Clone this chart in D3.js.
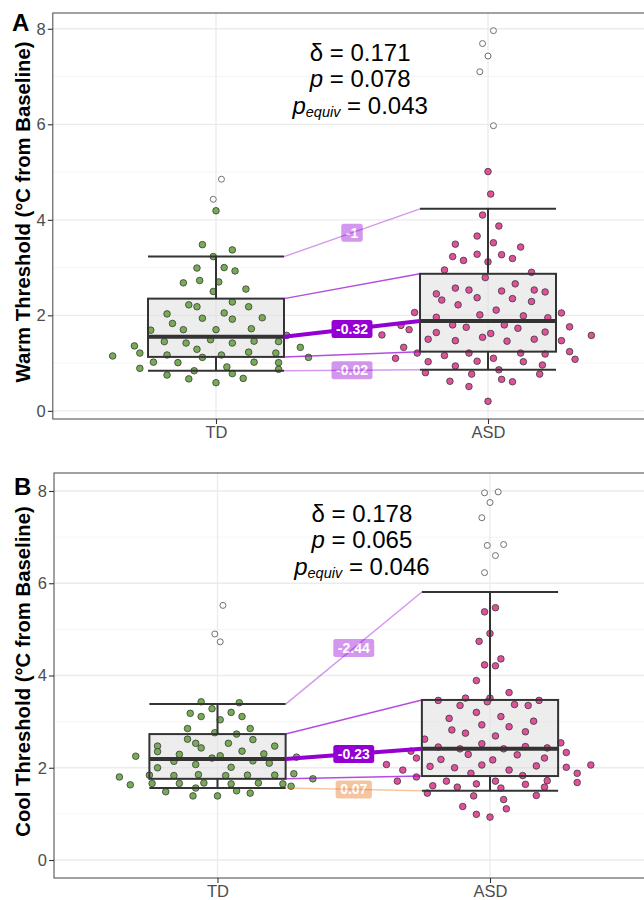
<!DOCTYPE html>
<html>
<head>
<meta charset="utf-8">
<script src="https://cdn.jsdelivr.net/npm/d3@7/dist/d3.min.js"></script>
<style>
  body { margin: 0; background: #fff; }
  svg { display: block; font-family: "Liberation Sans", Arial, sans-serif; }
</style>
</head>
<body>
<div id="chart"></div>
<script>
const groups = ["TD", "ASD"]
const panelTags = ["A", "B"]
const yTitles = ["Warm Threshold (°C from Baseline)", "Cool Threshold (°C from Baseline)"]
const yTicks = [0, 2, 4, 6, 8]

// stats order: lower whisker, Q1, median, Q3, upper whisker
const warmTdStats = [0.84, 1.13, 1.55, 2.35, 3.23]
const warmAsdStats = [0.86, 1.24, 1.88, 2.87, 4.23]
const warmDiffLabels = ["-0.02", "", "-0.32", "", "-1"]
const warmAnnot = ["0.171", "0.078", "0.043"]

const coolTdStats = [1.56, 1.76, 2.19, 2.73, 3.38]
const coolAsdStats = [1.50, 1.82, 2.41, 3.47, 5.81]
const coolDiffLabels = ["0.07", "", "-0.23", "", "-2.44"]
const coolAnnot = ["0.178", "0.065", "0.046"]

// [value, jitter]
const warmTdOutliers = [[4.85, 0.02], [4.43, -0.01]]
const warmAsdOutliers = [[7.96, 0.02], [7.69, -0.02], [7.43, 0.00], [7.10, -0.03], [5.97, 0.02]]
const coolTdOutliers = [[5.52, 0.02], [4.90, -0.01], [4.73, 0.01]]
const coolAsdOutliers = [[7.96, -0.02], [7.98, 0.03], [7.75, 0.00], [7.42, -0.03], [6.82, -0.01], [6.84, 0.05], [6.60, 0.02], [6.23, -0.02]]

const warmTdPoints = [
  [4.19, 0.00], [3.48, -0.05], [3.37, 0.06], [3.23, -0.01], [2.99, -0.07], [3.00, 0.03], [2.93, 0.07],
  [2.73, -0.06], [2.68, -0.12], [2.70, 0.01], [2.55, 0.11], [2.50, -0.01], [2.28, 0.06], [2.22, -0.10],
  [2.18, -0.07], [2.18, 0.12], [2.03, -0.18], [2.05, 0.03], [1.94, -0.05], [1.92, 0.06], [1.95, 0.17],
  [1.83, -0.16], [1.69, -0.24], [1.70, -0.12], [1.70, 0.00], [1.72, 0.13], [1.49, -0.02], [1.45, -0.19],
  [1.42, -0.11], [1.42, 0.06], [1.46, 0.14], [1.45, 0.23], [1.36, -0.30], [1.29, -0.07], [1.21, -0.28],
  [1.23, 0.12], [1.21, 0.22], [1.15, -0.38], [1.17, -0.18], [1.12, -0.05], [1.17, 0.02], [1.02, -0.23],
  [1.01, -0.14], [1.02, 0.14], [1.01, 0.23], [0.89, -0.28], [0.84, -0.08], [0.92, 0.04], [0.87, 0.23],
  [0.75, -0.18], [0.78, 0.06], [0.67, -0.10], [0.68, 0.10], [0.59, 0.00], [1.33, 0.31], [1.12, 0.34],
  [1.58, 0.26]
]
const warmAsdPoints = [
  [5.01, 0.00], [4.54, 0.01], [4.10, -0.02], [3.87, 0.04], [3.66, -0.04], [3.49, -0.12], [3.52, 0.02],
  [3.43, 0.12], [3.23, -0.13], [3.28, -0.04], [3.27, 0.05], [3.15, -0.09], [3.12, 0.00], [3.19, 0.09],
  [2.95, -0.16], [2.90, 0.16], [2.79, -0.01], [2.45, -0.19], [2.57, -0.12], [2.53, -0.07], [2.51, 0.05],
  [2.66, 0.10], [2.53, 0.17], [2.49, 0.21], [2.32, -0.17], [2.37, -0.04], [2.35, 0.09], [2.29, 0.16],
  [2.22, -0.11], [2.06, -0.27], [2.11, 0.03], [2.01, -0.03], [1.99, 0.13], [2.05, 0.27], [1.96, -0.19],
  [1.95, 0.22], [1.79, -0.32], [1.80, -0.13], [1.75, -0.08], [1.80, 0.06], [1.73, 0.11], [1.76, 0.30],
  [1.70, -0.29], [1.59, -0.39], [1.64, -0.19], [1.62, 0.01], [1.65, 0.21], [1.58, 0.38], [1.50, -0.22],
  [1.47, -0.12], [1.54, -0.02], [1.46, 0.07], [1.50, 0.17], [1.47, 0.27], [1.33, -0.31], [1.21, -0.26],
  [1.16, -0.16], [1.21, -0.07], [1.21, 0.12], [1.19, 0.21], [1.24, 0.30], [1.10, -0.34], [1.03, -0.22],
  [1.04, -0.04], [1.10, 0.02], [1.03, 0.13], [1.08, 0.32], [0.94, -0.12], [0.96, 0.20], [0.80, -0.23],
  [0.77, -0.06], [0.86, 0.04], [0.77, 0.19], [0.62, -0.14], [0.66, 0.05], [0.61, 0.09], [0.51, -0.07],
  [0.20, 0.00]
]
const coolTdPoints = [
  [3.43, -0.06], [3.41, 0.08], [3.28, -0.02], [3.18, -0.10], [3.20, 0.05], [3.11, -0.06], [3.11, 0.09],
  [3.04, 0.01], [2.85, -0.11], [2.85, 0.12], [2.76, -0.01], [2.73, 0.07], [2.62, -0.11], [2.61, 0.13],
  [2.53, -0.08], [2.53, 0.04], [2.47, -0.22], [2.43, -0.06], [2.47, 0.21], [2.35, -0.22], [2.36, 0.09],
  [2.25, -0.30], [2.29, -0.14], [2.26, 0.01], [2.30, 0.17], [2.21, -0.02], [2.23, 0.29], [2.14, -0.16],
  [2.15, 0.13], [2.07, -0.08], [2.10, 0.19], [2.00, -0.22], [2.01, 0.05], [1.80, -0.36], [1.84, -0.25],
  [1.83, -0.16], [1.85, -0.07], [1.83, 0.03], [1.84, 0.11], [1.84, 0.21], [1.87, 0.28], [1.76, 0.35],
  [1.63, -0.32], [1.66, -0.24], [1.66, -0.14], [1.67, -0.05], [1.65, 0.05], [1.67, 0.15], [1.65, 0.24],
  [1.60, 0.27], [1.56, -0.08], [1.48, -0.19], [1.50, 0.07], [1.39, -0.09], [1.39, 0.00], [1.45, 0.12]
]
const coolAsdPoints = [
  [5.47, 0.02], [5.38, -0.02], [4.91, 0.00], [4.74, -0.04], [4.36, 0.04], [4.23, -0.02], [4.21, 0.02],
  [3.89, -0.05], [3.63, 0.07], [3.51, -0.09], [3.51, 0.00], [3.46, -0.19], [3.43, -0.01], [3.46, 0.18],
  [3.35, -0.11], [3.37, 0.09], [3.35, 0.14], [3.20, -0.05], [3.07, -0.15], [3.11, 0.04], [3.01, 0.16],
  [2.93, -0.03], [2.89, 0.07], [2.82, -0.14], [2.75, -0.09], [2.78, 0.13], [2.69, 0.02], [2.62, -0.24],
  [2.52, -0.03], [2.54, 0.26], [2.45, -0.19], [2.41, -0.11], [2.41, 0.05], [2.46, 0.13], [2.43, 0.21],
  [2.36, -0.29], [2.33, 0.28], [2.29, -0.08], [2.28, 0.10], [2.21, -0.27], [2.18, -0.18], [2.17, 0.01],
  [2.21, 0.20], [2.07, -0.38], [2.03, -0.22], [2.06, -0.03], [2.04, 0.17], [2.06, 0.37], [1.95, -0.32],
  [2.00, -0.13], [1.95, 0.07], [2.01, 0.28], [1.88, -0.07], [1.88, 0.32], [1.83, 0.12], [1.80, -0.27],
  [1.71, -0.34], [1.71, -0.16], [1.71, 0.02], [1.72, 0.21], [1.68, 0.32], [1.65, -0.05], [1.64, 0.13],
  [1.61, -0.21], [1.58, -0.12], [1.56, 0.04], [1.58, 0.20], [1.45, -0.23], [1.39, -0.06], [1.40, 0.17],
  [1.31, 0.05], [1.16, -0.10], [1.11, 0.06], [0.99, -0.05], [0.93, 0.00]
]

const width = 644
const height = 900
const boxHalf = 0.25
const pointColors = ["#78ab56", "#e0519b"]
const negColor = "#9400d3"
const posColor = "#e8701a"
const statAlpha = [0.4, 0.7, 1, 0.7, 0.4]
const statWidth = [1.5, 1.5, 4, 1.5, 1.5]

const panels = [
  { top: 13, bottom: 419, left: 52.8, right: 651.2, yDomain: [-0.17, 8.33], tagX: 12, tagY: 31,
    stats: [warmTdStats, warmAsdStats], points: [warmTdPoints, warmAsdPoints],
    outliers: [warmTdOutliers, warmAsdOutliers], labels: warmDiffLabels, annot: warmAnnot },
  { top: 473, bottom: 878, left: 54, right: 653.5, yDomain: [-0.39, 8.39], tagX: 14, tagY: 495,
    stats: [coolTdStats, coolAsdStats], points: [coolTdPoints, coolAsdPoints],
    outliers: [coolTdOutliers, coolAsdOutliers], labels: coolDiffLabels, annot: coolAnnot }
]

const svg = d3.select("#chart").append("svg")
  .attr("width", width)
  .attr("height", height)

const drawPanel = (p, i) => {
  const x = d3.scaleLinear().domain([0.4, 2.6]).range([p.left, p.right])
  const y = d3.scaleLinear().domain(p.yDomain).range([p.bottom, p.top])
  const g = svg.append("g")

  // grid
  g.selectAll(".minor").data([1, 3, 5, 7]).enter().append("line")
    .attr("x1", p.left).attr("x2", p.right)
    .attr("y1", d => y(d)).attr("y2", d => y(d))
    .attr("stroke", "#f2f2f2").attr("stroke-width", 0.8)
  g.selectAll(".major").data(yTicks).enter().append("line")
    .attr("x1", p.left).attr("x2", p.right)
    .attr("y1", d => y(d)).attr("y2", d => y(d))
    .attr("stroke", "#ebebeb").attr("stroke-width", 1.3)
  g.selectAll(".vgrid").data([1, 2]).enter().append("line")
    .attr("x1", d => x(d)).attr("x2", d => x(d))
    .attr("y1", p.top).attr("y2", p.bottom)
    .attr("stroke", "#ebebeb").attr("stroke-width", 1.3)

  // box fills
  p.stats.forEach((s, gi) => {
    g.append("rect")
      .attr("x", x(gi + 1 - boxHalf)).attr("width", x(gi + 1 + boxHalf) - x(gi + 1 - boxHalf))
      .attr("y", y(s[3])).attr("height", y(s[1]) - y(s[3]))
      .attr("fill", "#dedede").attr("fill-opacity", 0.55)
  })

  // jittered points
  p.points.forEach((pts, gi) => {
    g.append("g").selectAll("circle").data(pts).enter().append("circle")
      .attr("cx", d => x(gi + 1 + d[1]))
      .attr("cy", d => y(d[0]))
      .attr("r", 3.3)
      .attr("fill", pointColors[gi])
      .attr("stroke", "#333").attr("stroke-width", 0.75)
  })

  // box lines
  p.stats.forEach((s, gi) => {
    const c = gi + 1
    const bx = g.append("g").attr("stroke", "#333").attr("fill", "none")
    bx.append("line").attr("x1", x(c)).attr("x2", x(c)).attr("y1", y(s[3])).attr("y2", y(s[4])).attr("stroke-width", 2)
    bx.append("line").attr("x1", x(c)).attr("x2", x(c)).attr("y1", y(s[1])).attr("y2", y(s[0])).attr("stroke-width", 2)
    ;[0, 4].forEach(k => {
      bx.append("line").attr("x1", x(c - boxHalf)).attr("x2", x(c + boxHalf))
        .attr("y1", y(s[k])).attr("y2", y(s[k])).attr("stroke-width", 2)
    })
    bx.append("rect")
      .attr("x", x(c - boxHalf)).attr("width", x(c + boxHalf) - x(c - boxHalf))
      .attr("y", y(s[3])).attr("height", y(s[1]) - y(s[3]))
      .attr("stroke-width", 2)
    bx.append("line").attr("x1", x(c - boxHalf)).attr("x2", x(c + boxHalf))
      .attr("y1", y(s[2])).attr("y2", y(s[2])).attr("stroke-width", 4)
  })

  // connectors between the two groups' stats
  const td = p.stats[0], asd = p.stats[1]
  td.forEach((v, k) => {
    const col = v - asd[k] >= 0 ? posColor : negColor
    g.append("line")
      .attr("x1", x(1 + boxHalf)).attr("x2", x(2 - boxHalf))
      .attr("y1", y(v)).attr("y2", y(asd[k]))
      .attr("stroke", col).attr("stroke-opacity", statAlpha[k])
      .attr("stroke-width", statWidth[k])
  })
  td.forEach((v, k) => {
    if (!p.labels[k]) return
    const col = v - asd[k] >= 0 ? posColor : negColor
    const lg = g.append("g")
      .attr("transform", `translate(${x(1.5)},${(y(v) + y(asd[k])) / 2})`)
      .attr("opacity", statAlpha[k])
    const rect = lg.append("rect").attr("fill", col).attr("rx", 2.5)
    const t = lg.append("text")
      .attr("text-anchor", "middle").attr("dy", "0.36em")
      .attr("fill", "#fff").attr("font-weight", "bold").attr("font-size", 14)
      .text(p.labels[k])
    const w = t.node().getComputedTextLength() + 9
    rect.attr("x", -w / 2).attr("y", -9).attr("width", w).attr("height", 18)
  })

  // outliers
  p.outliers.forEach((pts, gi) => {
    g.append("g").selectAll("circle").data(pts).enter().append("circle")
      .attr("cx", d => x(gi + 1 + d[1]))
      .attr("cy", d => y(d[0]))
      .attr("r", 3)
      .attr("fill", "#fff")
      .attr("stroke", "#707070").attr("stroke-width", 1)
  })

  // border
  g.append("rect")
    .attr("x", p.left).attr("y", p.top)
    .attr("width", p.right - p.left).attr("height", p.bottom - p.top)
    .attr("fill", "none").attr("stroke", "#555").attr("stroke-width", 1.1)

  // axes
  const yAxis = g.append("g")
    .attr("transform", `translate(${p.left},0)`)
    .call(d3.axisLeft(y).tickValues(yTicks).tickSize(5).tickPadding(2))
  const xAxis = g.append("g")
    .attr("transform", `translate(0,${p.bottom})`)
    .call(d3.axisBottom(x).tickValues([1, 2]).tickFormat(d => groups[d - 1]).tickSize(5).tickPadding(2))
  ;[yAxis, xAxis].forEach(a => {
    a.select(".domain").remove()
    a.selectAll("line").attr("stroke", "#333").attr("stroke-width", 1.1)
    a.selectAll("text").attr("fill", "#4d4d4d").attr("font-size", 16.5)
      .attr("font-family", "Liberation Sans, Arial, sans-serif")
  })

  // y title
  g.append("text")
    .attr("transform", `translate(30,${(p.top + p.bottom) / 2 - 4}) rotate(-90)`)
    .attr("text-anchor", "middle")
    .attr("font-weight", "bold").attr("font-size", 20.3)
    .attr("fill", "#000")
    .text(yTitles[i])

  // panel tag
  g.append("text")
    .attr("x", p.tagX).attr("y", p.tagY)
    .attr("font-weight", "bold").attr("font-size", 24)
    .text(panelTags[i])

  // stats annotation
  const ax = x(1.53)
  const ay = y(7.33)
  const a1 = g.append("text").attr("x", ax).attr("y", ay).attr("text-anchor", "middle").attr("font-size", 24)
  a1.text(`δ = ${p.annot[0]}`)
  const a2 = g.append("text").attr("x", ax).attr("y", ay + 26.5).attr("text-anchor", "middle").attr("font-size", 24)
  a2.append("tspan").attr("font-style", "italic").text("p")
  a2.append("tspan").text(` = ${p.annot[1]}`)
  const a3 = g.append("text").attr("x", ax).attr("y", ay + 53).attr("text-anchor", "middle").attr("font-size", 24)
  a3.append("tspan").attr("font-style", "italic").text("p")
  a3.append("tspan").attr("font-style", "italic").attr("font-size", 14.5).attr("dy", 3).text("equiv")
  a3.append("tspan").attr("dy", -3).text(` = ${p.annot[2]}`)
}

panels.forEach(drawPanel)
</script>
</body>
</html>
